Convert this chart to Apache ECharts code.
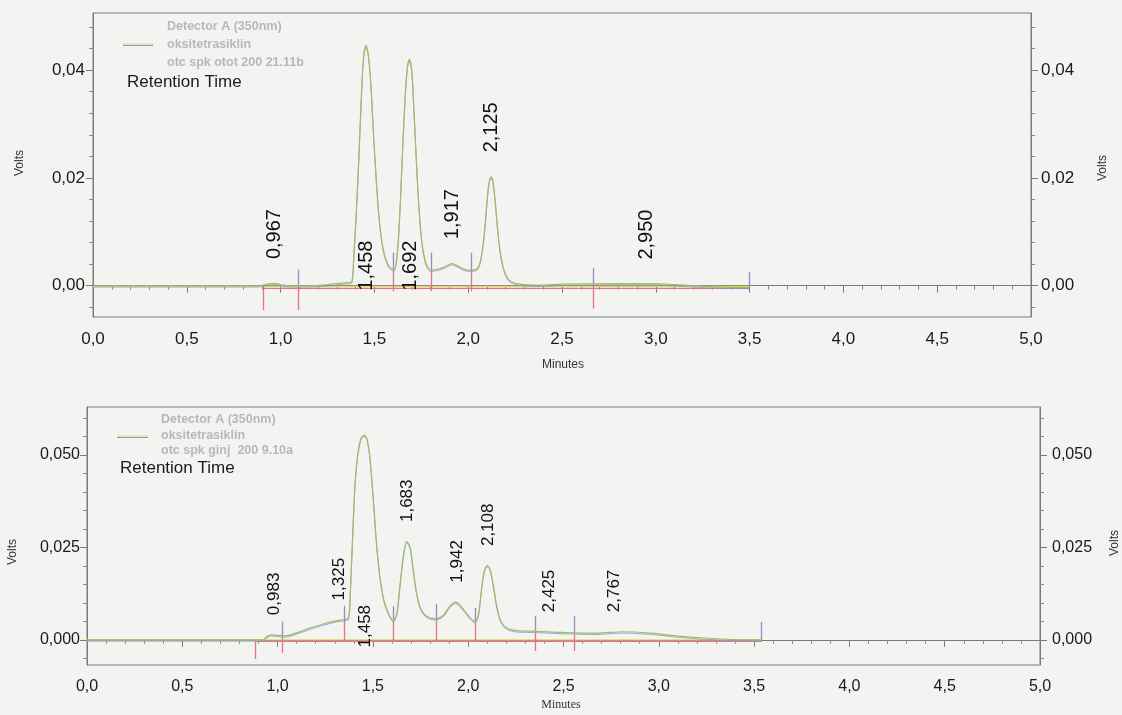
<!DOCTYPE html>
<html><head><meta charset="utf-8">
<script src="https://cdn.jsdelivr.net/npm/echarts@6/dist/echarts.min.js"></script>
<style>html,body{margin:0;padding:0;background:#f3f3f1;}#c{width:1122px;height:715px;}</style>
</head><body><div id="c"></div>
<script>
// ---------- DATA (top chromatogram: otc spk otot 200 21.11b) ----------
const topTime = [0,0.30,0.60,0.88,0.92,0.95,0.98,1.01,1.05,1.15,1.22,1.27,1.32,1.36,1.379,1.391,1.405,1.418,1.429,1.441,1.455,1.469,1.482,1.494,1.509,1.523,1.539,1.557,1.580,1.605,1.622,1.637,1.651,1.665,1.676,1.686,1.699,1.709,1.722,1.736,1.752,1.770,1.788,1.802,1.850,1.886,1.915,1.947,1.983,2.018,2.049,2.066,2.084,2.098,2.110,2.122,2.132,2.145,2.159,2.175,2.197,2.223,2.276,2.383,2.50,2.80,3.00,3.10,3.20,3.30,3.497];
const topSignal = [0,0,0,0,0.0002,0.0004,0.0004,0.0001,0,0,0.0001,0.0003,0.0005,0.0006,0.0007,0.0060,0.0146,0.0245,0.0338,0.0419,0.0446,0.0425,0.0369,0.0289,0.0202,0.0134,0.0084,0.0053,0.0035,0.0030,0.0060,0.0146,0.0258,0.0357,0.0406,0.0420,0.0400,0.0338,0.0245,0.0153,0.0084,0.0047,0.0032,0.0029,0.0032,0.0037,0.0041,0.0036,0.0030,0.0029,0.0032,0.0047,0.0090,0.0146,0.0189,0.0202,0.0193,0.0153,0.0097,0.0053,0.0023,0.0009,0.0003,0.0001,0.0003,0.0004,0.0004,0.0002,0.0000,-0.0002,-0.0003];
const topPeakRT = [0.967,1.458,1.692,1.917,2.125,2.950];
const topPeakHeight = [0.0004,0.0446,0.0420,0.0041,0.0202,0.0003];
const topMarkTime = [0.905,1.094,1.601,1.802,2.018,2.667,3.497];
const topMarkTop = [0,0.0030,0.0061,0.0061,0.0061,0.0033,0.0025];
const topMarkBottom = [-0.0045,-0.0045,-0.0010,-0.0010,-0.0010,-0.0042,-0.0004];
const topYTicks = [0,0.02,0.04];
const topYellowBase = -0.0001, topRedBase = -0.0005;

// ---------- DATA (bottom chromatogram: otc spk ginj 200 9.10a) ----------
const botTime = [0,0.40,0.80,0.90,0.925,0.946,0.969,1.004,1.039,1.100,1.170,1.240,1.310,1.353,1.373,1.383,1.394,1.406,1.420,1.437,1.455,1.470,1.485,1.502,1.520,1.537,1.558,1.581,1.607,1.625,1.642,1.660,1.677,1.695,1.712,1.730,1.751,1.782,1.826,1.869,1.904,1.934,1.965,2.000,2.035,2.053,2.070,2.085,2.100,2.114,2.132,2.149,2.170,2.202,2.254,2.359,2.499,2.674,2.810,2.960,3.090,3.240,3.390,3.540];
const botSignal = [0,0,0,0,0.0001,0.0010,0.0014,0.0012,0.0011,0.0019,0.0032,0.0043,0.0052,0.0055,0.0060,0.0147,0.0283,0.0418,0.0499,0.0544,0.0554,0.0542,0.0490,0.0382,0.0255,0.0170,0.0107,0.0073,0.0052,0.0070,0.0147,0.0228,0.0266,0.0251,0.0188,0.0125,0.0084,0.0064,0.0057,0.0066,0.0091,0.0102,0.0089,0.0066,0.0050,0.0066,0.0138,0.0188,0.0201,0.0192,0.0147,0.0093,0.0052,0.0032,0.0025,0.0023,0.0020,0.0018,0.0022,0.0018,0.0011,0.0005,0.0001,0.0000];
const botPeakRT = [0.983,1.325,1.458,1.683,1.942,2.108,2.425,2.767];
const botPeakHeight = [0.0014,0.0054,0.0554,0.0266,0.0102,0.0201,0.0022,0.0022];
const botMarkTime = [0.881,1.025,1.350,1.607,1.831,2.039,2.354,2.555,3.540];
const botMarkTop = [0,0.0050,0.0092,0.0091,0.0097,0.0086,0.0065,0.0065,0.0048];
const botMarkBottom = [-0.0052,-0.0035,-0.0004,-0.0004,-0.0004,-0.0004,-0.0030,-0.0030,-0.0004];
const botYTicks = [0,0.025,0.05];
const botYellowBase = 0, botRedBase = -0.0004;

const xTicks = [0,0.5,1,1.5,2,2.5,3,3.5,4,4.5,5];

// ---------- STYLE ----------
const FONT = 'Liberation Sans';
const C_TRACE = '#a2bb62', C_BLUE = '#7e98d6', C_YEL = '#e2da5a', C_RED = '#e27483', C_PUR = '#9b88c9', C_AX = '#7a7a7a';

const panels = [
  {grid:{left:93,right:91,top:13,height:304}, min:-0.0058, max:0.0506, dec:2, yt:topYTicks,
   t:topTime, s:topSignal, rt:topPeakRT, ph:topPeakHeight, mt:topMarkTime, mTop:topMarkTop, mBot:topMarkBottom,
   yb:topYellowBase, rb:topRedBase, lblFont:20, axFont:17, gap:24, baseLbl:-0.0010, lm:8, rm:10},
  {grid:{left:87,right:82,top:407,height:258}, min:-0.0068, max:0.063, dec:3, yt:botYTicks,
   t:botTime, s:botSignal, rt:botPeakRT, ph:botPeakHeight, mt:botMarkTime, mTop:botMarkTop, mBot:botMarkBottom,
   yb:botYellowBase, rb:botRedBase, lblFont:17, axFont:16, gap:19, baseLbl:-0.0022, lm:7, rm:12}
];

function interp(ts, vs, t){
  for(let i=1;i<ts.length;i++){ if(t<=ts[i]){ const f=(t-ts[i-1])/(ts[i]-ts[i-1]); return vs[i-1]+f*(vs[i]-vs[i-1]); } }
  return vs[vs.length-1];
}
const fmtX = v => v.toFixed(1).replace('.',',');

const grids=[], xAxes=[], yAxes=[], series=[];
panels.forEach((p,gi)=>{
  grids.push(Object.assign({show:true,borderColor:C_AX,borderWidth:1,backgroundColor:'transparent'},p.grid));
  xAxes.push({gridIndex:gi,type:'value',min:0,max:5,interval:0.5,
    axisLine:{show:true,lineStyle:{color:C_AX}},
    axisTick:{show:true,length:7,customValues:xTicks,lineStyle:{color:C_AX}},
    minorTick:{show:true,splitNumber:5,length:4,lineStyle:{color:'#8a8a8a'}},
    splitLine:{show:false},minorSplitLine:{show:false},
    axisLabel:{formatter:fmtX,customValues:xTicks,fontSize:p.axFont,fontFamily:FONT,color:'#1a1a1a',margin:14}});
  const step = p.yt[1]-p.yt[0], mstep = step/5;
  const minors=[];
  for(let k=Math.ceil(p.min/mstep);k*mstep<=p.max+1e-9;k++){ const v=+(k*mstep).toFixed(6); if(Math.abs(v/step-Math.round(v/step))>1e-6) minors.push(v); }
  const fmtY = v => (+v).toFixed(p.dec).replace('.',',');
  const base = yAxes.length;
  ['left','right'].forEach(pos=>{
    yAxes.push({gridIndex:gi,type:'value',position:pos,min:p.min,max:p.max,
      axisLine:{show:true,lineStyle:{color:C_AX}},splitLine:{show:false},
      axisTick:{show:true,length:7,customValues:p.yt,lineStyle:{color:C_AX}},
      axisLabel:{show:true,customValues:p.yt,formatter:fmtY,fontSize:p.axFont,fontFamily:FONT,color:'#1a1a1a',margin:pos==='left'?p.lm:p.rm}});
    yAxes.push({gridIndex:gi,type:'value',position:pos,min:p.min,max:p.max,
      axisLine:{show:false},splitLine:{show:false},
      axisTick:{show:true,length:4,customValues:minors,lineStyle:{color:'#8a8a8a'}},
      axisLabel:{show:false}});
  });
  const px = (p.max-p.min)/p.grid.height;
  yAxes.push({gridIndex:gi,type:'value',show:false,min:p.min+1.3*px,max:p.max+1.3*px});
  const yMain = base, yBlue = base+4;
  const end = p.t[p.t.length-1];
  const traceData = p.t.map((t,i)=>[t,p.s[i]]);
  series.push({type:'line',xAxisIndex:gi,yAxisIndex:yMain,data:[[0,p.yb],[end,p.yb]],symbol:'none',silent:true,
    lineStyle:{color:C_YEL,width:1.2},z:2});
  series.push({type:'line',xAxisIndex:gi,yAxisIndex:yMain,data:[[p.mt[0],p.rb],[end,p.rb]],symbol:'none',silent:true,
    lineStyle:{color:C_RED,width:1.2},z:2});
  const segs=[];
  p.mt.forEach((t,i)=>{
    const tv = interp(p.t,p.s,t);
    const split = Math.min(Math.max(tv,p.mBot[i]),p.mTop[i]);
    if(p.mTop[i]>split) segs.push({coords:[[t,split],[t,p.mTop[i]]],lineStyle:{color:C_PUR}});
    if(split>p.mBot[i]) segs.push({coords:[[t,p.mBot[i]],[t,split]],lineStyle:{color:C_RED}});
  });
  series.push({type:'lines',coordinateSystem:'cartesian2d',xAxisIndex:gi,yAxisIndex:yMain,data:segs,silent:true,
    lineStyle:{width:1.3,opacity:1},z:3});
  series.push({type:'line',xAxisIndex:gi,yAxisIndex:yBlue,data:traceData,symbol:'none',smooth:0.3,silent:true,
    lineStyle:{color:C_BLUE,width:1,opacity:0.8},z:4});
  series.push({type:'line',xAxisIndex:gi,yAxisIndex:yMain,data:traceData,symbol:'none',smooth:0.3,silent:true,
    lineStyle:{color:C_TRACE,width:1.2},z:5});
  const lbl = p.rt.map((rt,i)=>{
    const over = p.ph[i] > 0.035;
    return {value:[rt, over ? p.baseLbl : p.ph[i]],
      label:{show:true,formatter:rt.toFixed(3).replace('.',','),rotate:90,position:'top',distance:over?0:p.gap,
        align:'left',verticalAlign:'middle',fontSize:p.lblFont,fontFamily:FONT,color:'#111111',opacity:1,textBorderWidth:0}};
  });
  series.push({type:'scatter',xAxisIndex:gi,yAxisIndex:yMain,data:lbl,symbolSize:1,itemStyle:{color:'rgba(0,0,0,0)',opacity:1},silent:true,z:6});
});

function txt(x,y,text,opt){
  return {type:'text',x:x,y:y,rotation:opt.rot||0,silent:true,
    style:{text:text,x:0,y:0,align:opt.align||'left',verticalAlign:'middle',
      font:(opt.weight||'normal')+' '+(opt.size||12)+'px "'+(opt.family||FONT)+'"',fill:opt.color||'#333'}};
}
function seg(x1,y1,x2,y2,c){ return {type:'line',silent:true,shape:{x1:x1,y1:y1,x2:x2,y2:y2},style:{stroke:c,lineWidth:1}}; }
const GRAY='#b8b8b8';
const graphics = [
  txt(167,27,'Detector A (350nm)',{weight:'bold',size:12.5,color:GRAY}),
  txt(167,45,'oksitetrasiklin',{weight:'bold',size:12.5,color:GRAY}),
  txt(167,63,'otc spk otot 200 21.11b',{weight:'bold',size:12.5,color:GRAY}),
  seg(123,44,153,44,C_YEL), seg(123,45.5,153,45.5,C_BLUE),
  txt(127,82,'Retention Time',{size:17,color:'#1a1a1a'}),
  txt(20,163,'Volts',{size:12,rot:Math.PI/2,align:'center'}),
  txt(1103,168,'Volts',{size:12,rot:Math.PI/2,align:'center'}),
  txt(563,365,'Minutes',{size:12,align:'center'}),
  txt(161,420,'Detector A (350nm)',{weight:'bold',size:12.5,color:GRAY}),
  txt(161,436,'oksitetrasiklin',{weight:'bold',size:12.5,color:GRAY}),
  txt(161,451,'otc spk ginj  200 9.10a',{weight:'bold',size:12.5,color:GRAY}),
  seg(117,436,148,436,C_YEL), seg(117,437.5,148,437.5,C_BLUE),
  txt(120,468,'Retention Time',{size:17,color:'#1a1a1a'}),
  txt(13,552,'Volts',{size:12,rot:Math.PI/2,align:'center'}),
  txt(1115,543,'Volts',{size:12,rot:Math.PI/2,align:'center'}),
  txt(561,705,'Minutes',{size:12,align:'center',family:'Liberation Serif'})
];

const chart = echarts.init(document.getElementById('c'),null,{renderer:'canvas'});
chart.setOption({backgroundColor:'#f3f3f1',animation:false,grid:grids,xAxis:xAxes,yAxis:yAxes,series:series,graphic:graphics});
</script></body></html>
